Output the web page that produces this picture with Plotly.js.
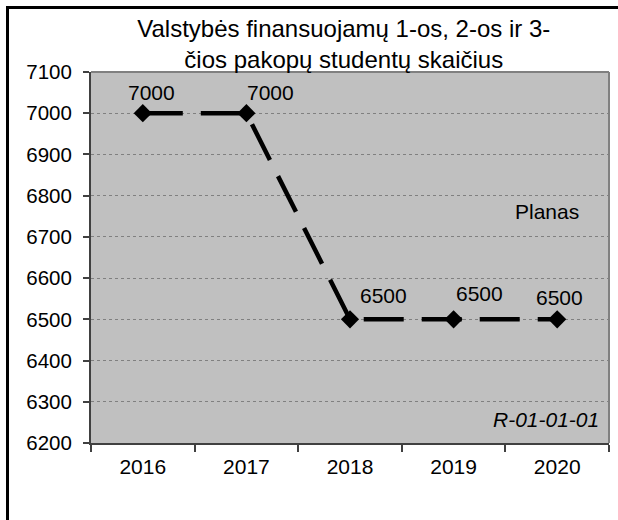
<!DOCTYPE html>
<html>
<head>
<meta charset="utf-8">
<script src="https://cdn.plot.ly/plotly-3.0.1.min.js"></script>
<style>
  html, body { margin: 0; padding: 0; background: #ffffff; }
  #wrap { position: relative; width: 618px; height: 520px; overflow: hidden; }
  #chart { position: absolute; left: 0; top: 0; width: 618px; height: 520px; }
  #frame { position: absolute; left: 6px; top: 6px; width: 700px; height: 600px;
           border-top: 3px solid #000; border-left: 3px solid #000; pointer-events: none; }
</style>
</head>
<body>
<div id="wrap">
  <div id="chart"></div>
  <div id="frame"></div>
</div>
<script>
// ---- data ----
const years = ['2016', '2017', '2018', '2019', '2020'];
const students = [7000, 7000, 6500, 6500, 6500];
const yTicks = [6200, 6300, 6400, 6500, 6600, 6700, 6800, 6900, 7000, 7100];
const titleText = 'Valstybės finansuojamų 1-os, 2-os ir 3-<br>čios pakopų studentų skaičius';
const seriesNote = 'Planas';
const codeNote = 'R-01-01-01';

// label offsets (pixels) – layout only
const labelDX = [9, 24, 33, 26, 2];
const labelDY = [7, 7, 10, 12, 8];

const FONT = 'Liberation Sans, Arial, sans-serif';

const trace = {
  x: years,
  y: students,
  type: 'scatter',
  mode: 'lines+markers',
  line: { color: '#000000', width: 4.5, dash: '40px,18px' },
  marker: { symbol: 'diamond', size: 14, color: '#000000' },
  hoverinfo: 'skip',
  showlegend: false
};

// data labels; x given as category index so numeric-looking names are not misread
const annotations = years.map((yr, i) => ({
  x: i, y: students[i], xref: 'x', yref: 'y',
  text: String(students[i]), showarrow: false,
  xanchor: 'center', yanchor: 'bottom',
  xshift: labelDX[i], yshift: labelDY[i],
  font: { family: FONT, size: 21, color: '#000000' }
}));
annotations.push({
  xref: 'paper', yref: 'paper', x: 0.881, y: 0.624,
  xanchor: 'center', yanchor: 'middle', showarrow: false,
  text: seriesNote, font: { family: FONT, size: 21, color: '#000000' }
});
annotations.push({
  xref: 'paper', yref: 'paper', x: 0.985, y: 0.063,
  xanchor: 'right', yanchor: 'middle', showarrow: false,
  text: '<i>' + codeNote + '</i>', font: { family: FONT, size: 21, color: '#000000' }
});

const layout = {
  width: 618, height: 520,
  margin: { l: 91, r: 9, t: 72, b: 77, pad: 0 },
  paper_bgcolor: '#ffffff',
  plot_bgcolor: '#c0c0c0',
  font: { family: FONT, size: 21, color: '#000000' },
  title: {
    text: titleText,
    font: { family: FONT, size: 24, color: '#000000' },
    xref: 'paper', x: 0.488, xanchor: 'center',
    yref: 'container', y: 1 - 37 / 520, yanchor: 'top'
  },
  xaxis: {
    type: 'category',
    range: [-0.5, 4.5],
    showgrid: false,
    showline: true, linecolor: '#404040', linewidth: 2,
    ticks: 'outside', tickson: 'boundaries', ticklen: 7, tickwidth: 2, tickcolor: '#404040',
    ticklabelstandoff: 4,
    tickfont: { family: FONT, size: 21, color: '#000000' },
    zeroline: false, fixedrange: true
  },
  yaxis: {
    range: [6200, 7100],
    tickmode: 'array', tickvals: yTicks, ticktext: yTicks.map(String),
    showgrid: true, gridcolor: '#808080', gridwidth: 1, griddash: 'dot',
    showline: true, linecolor: '#404040', linewidth: 2,
    ticks: 'outside', ticklen: 6, tickwidth: 2, tickcolor: '#404040',
    ticklabelstandoff: 7,
    tickfont: { family: FONT, size: 20.5, color: '#000000' },
    zeroline: false, fixedrange: true
  },
  shapes: [
    { type: 'line', xref: 'paper', yref: 'paper', x0: 0, x1: 1, y0: 1, y1: 1,
      line: { color: '#808080', width: 2 } },
    { type: 'line', xref: 'paper', yref: 'paper', x0: 1, x1: 1, y0: 0, y1: 1,
      line: { color: '#808080', width: 2 } }
  ],
  annotations: annotations
};

Plotly.newPlot('chart', [trace], layout, { staticPlot: true, displayModeBar: false });
</script>
</body>
</html>
